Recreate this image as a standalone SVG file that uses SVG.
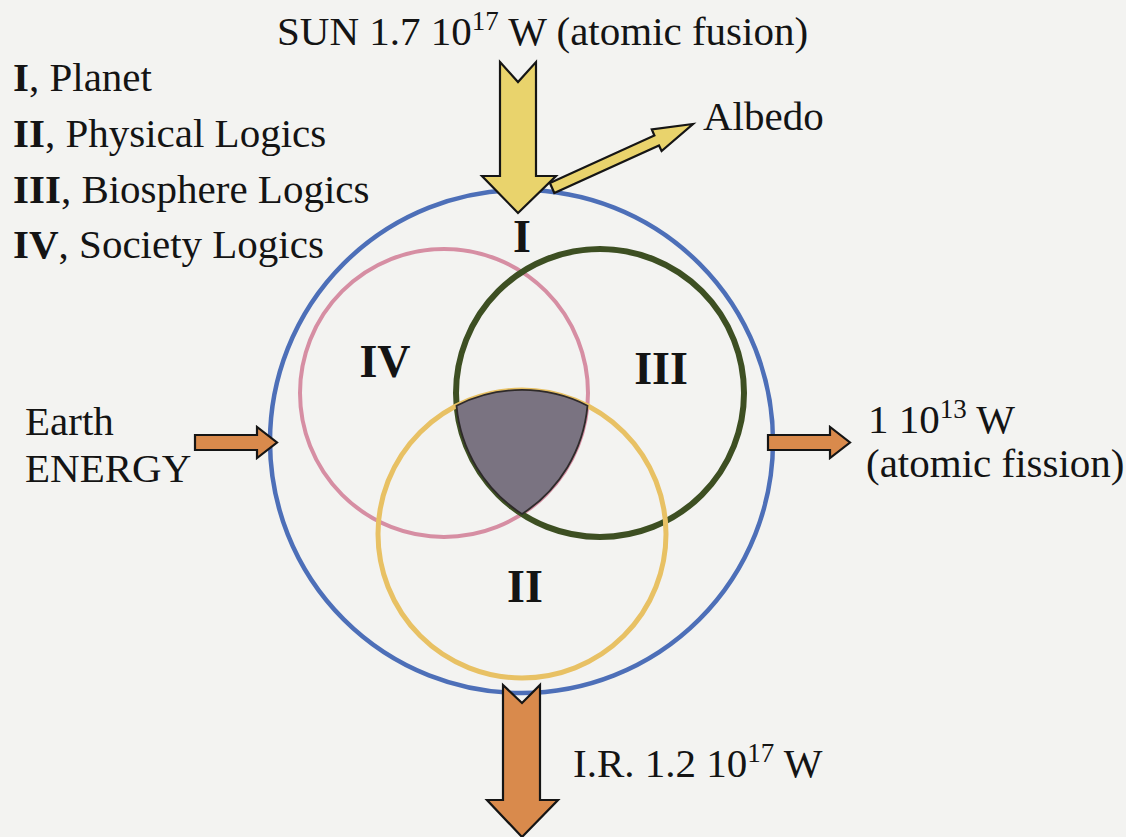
<svg xmlns="http://www.w3.org/2000/svg" width="1126" height="837" viewBox="0 0 1126 837">
<style>
text{font-family:"Liberation Serif","Times New Roman",serif;fill:#141414;font-size:41px}
.b{font-weight:bold}
.num{font-weight:bold;font-size:46px;text-anchor:middle}
.ring{fill:none}
.ya{fill:#e9d36c;stroke:#151515;stroke-width:2.2;stroke-linejoin:miter}
.oa{fill:#d98a4c;stroke:#151515;stroke-width:2.2;stroke-linejoin:miter}
</style>
<rect width="1126" height="837" fill="#f3f3f1"/>
<g id="legend">
<text x="13" y="91"><tspan class="b">I</tspan>, Planet</text>
<text x="13" y="147"><tspan class="b">II</tspan>, Physical Logics</text>
<text x="13" y="203"><tspan class="b">III</tspan>, Biosphere Logics</text>
<text x="13" y="258"><tspan class="b">IV</tspan>, Society Logics</text>
</g>
<g id="planet">
<circle class="ring" cx="521.5" cy="441.5" r="251.5" stroke="#4d6fb8" stroke-width="4.5"/>
<text class="num" x="522" y="252">I</text>
</g>
<g id="society">
<circle class="ring" cx="444" cy="393" r="144" stroke="#d68ea3" stroke-width="4"/>
<text class="num" x="385" y="377">IV</text>
</g>
<g id="biosphere">
<circle class="ring" cx="600" cy="393" r="144" stroke="#3d4f22" stroke-width="6"/>
<text class="num" x="661" y="384">III</text>
</g>
<g id="physical">
<circle class="ring" cx="522" cy="534" r="144" stroke="#e8c164" stroke-width="5"/>
<text class="num" x="525" y="602">II</text>
</g>
<g id="core">
<path d="M456.5,405.7 A144,144 0 0 1 587.5,405.7 A144,144 0 0 1 522,514 A144,144 0 0 1 456.5,405.7 Z" fill="#7a7381" stroke="#2e2a2a" stroke-width="1.8"/>
</g>
<g id="connectors">
<polygon class="ya" points="500,62 518,82 536,62 536,176 556,176 518,213 482,176 500,176"/>
<polygon class="ya" points="549.9,183 654.4,135.5 651.8,129.5 693,124 661.6,151 659,145.5 554.3,193"/>
<polygon class="oa" points="195,435 257,435 257,427 277,442.5 257,458 257,450 195,450"/>
<polygon class="oa" points="768,435 830,435 830,427 850,442.5 830,458 830,450 768,450"/>
<polygon class="oa" points="503,685 522,703 540,685 540,800 558,800 522,837 487,800 503,800"/>
</g>
<g id="labels">
<text x="277" y="45">SUN 1.7 10<tspan font-size="27" dy="-15">17</tspan><tspan dy="15"> W (atomic fusion)</tspan></text>
<text x="703" y="130">Albedo</text>
<text x="25" y="435">Earth</text>
<text x="25" y="482">ENERGY</text>
<text x="868" y="433">1 10<tspan font-size="27" dy="-15">13</tspan><tspan dy="15"> W</tspan></text>
<text x="866" y="477">(atomic fission)</text>
<text x="573" y="777">I.R. 1.2 10<tspan font-size="27" dy="-15">17</tspan><tspan dy="15"> W</tspan></text>
</g>
</svg>
